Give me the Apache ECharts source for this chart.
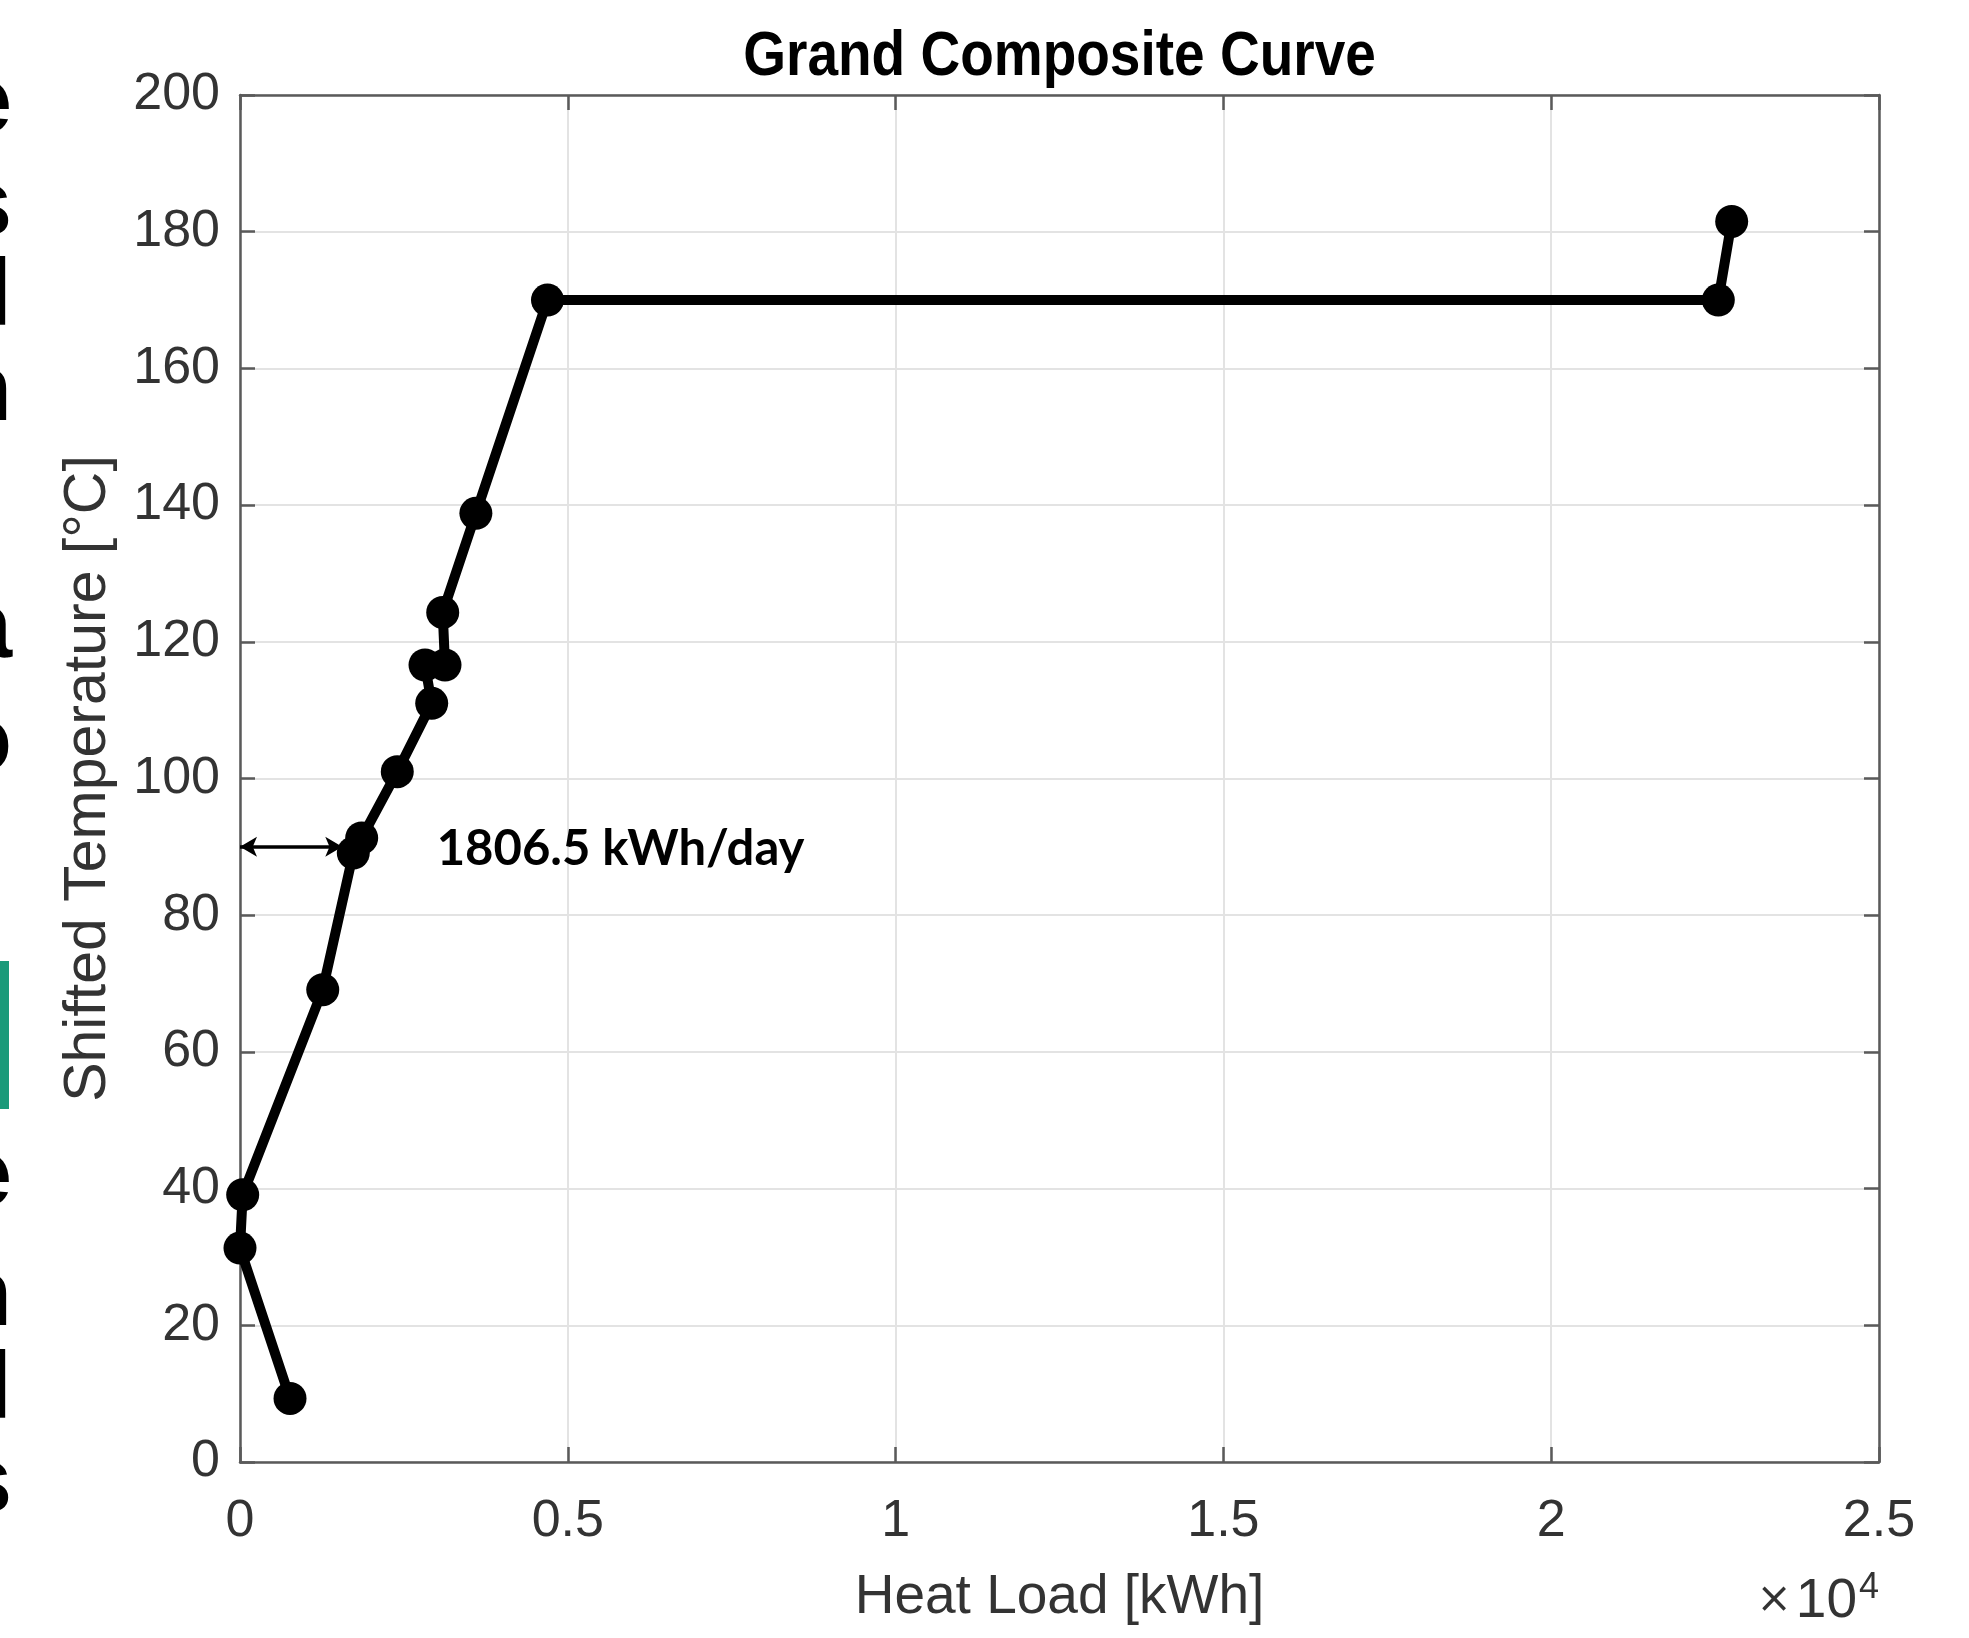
<!DOCTYPE html>
<html>
<head>
<meta charset="utf-8">
<script src="https://cdn.jsdelivr.net/npm/echarts@6/dist/echarts.min.js"></script>
<style>
  html, body { margin: 0; padding: 0; background: #fff; }
  #chart { width: 1969px; height: 1638px; }
</style>
</head>
<body>
<div id="chart"></div>
<script>
// ---- data ----
var heatLoad = [763, 0, 41, 1262, 1728, 1856, 2399, 2924, 2822, 3127, 3092, 3598, 4690, 22549, 22753];
var shiftedTemp = [9.3, 31.3, 39.1, 69.1, 89.1, 91.3, 101.0, 111.0, 116.6, 116.6, 124.3, 138.8, 170.0, 170.0, 181.5];
var xTicks = [0, 5000, 10000, 15000, 20000, 25000];
var yTicks = [0, 20, 40, 60, 80, 100, 120, 140, 160, 180, 200];
var pinchArrowX = [0, 1560];
var pinchArrowY = 90;
var annotationX = 3000;
var annotationText = '1806.5 kWh/day';
var titleText = 'Grand Composite Curve';
var xName = 'Heat Load [kWh]';
var yName = 'Shifted Temperature [°C]';
// cropped letters from the neighbouring page text, and the tops of their lines
var edgeLetters = ['e', 's', 'l', 'n', 'a', 'o', 'e', 'n', 'l', 's'];
var edgeLineTops = [58, 161, 251, 346, 583, 697, 1131, 1251, 1344, 1438];

var points = heatLoad.map(function (x, i) { return [x, shiftedTemp[i]]; });

var chart = echarts.init(document.getElementById('chart'), null, { renderer: 'canvas' });

var axisLineStyle = { color: '#5a5a5a', width: 2.5 };
var tickFont = 'Liberation Sans';
var labelColor = '#333333';

var option = {
  backgroundColor: '#ffffff',
  animation: false,
  grid: { left: 240, right: 90, top: 95, bottom: 176, containLabel: false },
  xAxis: [{
    type: 'value', min: xTicks[0], max: xTicks[xTicks.length - 1], interval: 5000,
    position: 'bottom',
    name: xName, nameLocation: 'middle', nameGap: 108,
    nameTextStyle: { fontFamily: tickFont, fontSize: 55, color: labelColor },
    axisLine: { show: true, onZero: false, lineStyle: axisLineStyle },
    axisTick: { show: true, inside: true, length: 15, lineStyle: axisLineStyle },
    axisLabel: { fontFamily: tickFont, fontSize: 52, color: labelColor, margin: 34,
      formatter: function (v) { return String(v / 10000); } },
    splitLine: { show: true, lineStyle: { color: '#e3e3e3', width: 2 } }
  }, {
    type: 'value', min: xTicks[0], max: xTicks[xTicks.length - 1], interval: 5000,
    position: 'top',
    axisLine: { show: true, onZero: false, lineStyle: axisLineStyle },
    axisTick: { show: true, inside: true, length: 15, lineStyle: axisLineStyle },
    axisLabel: { show: false },
    splitLine: { show: false }
  }],
  yAxis: [{
    type: 'value', min: yTicks[0], max: yTicks[yTicks.length - 1], interval: 20,
    position: 'left',
    name: yName, nameLocation: 'middle', nameGap: 122, nameRotate: 90,
    nameTextStyle: { fontFamily: tickFont, fontSize: 59, color: labelColor },
    axisLine: { show: true, onZero: false, lineStyle: axisLineStyle },
    axisTick: { show: true, inside: true, length: 15, lineStyle: axisLineStyle },
    axisLabel: { fontFamily: tickFont, fontSize: 52, color: labelColor, margin: 20 },
    splitLine: { show: true, lineStyle: { color: '#e3e3e3', width: 2 } }
  }, {
    type: 'value', min: yTicks[0], max: yTicks[yTicks.length - 1], interval: 20,
    position: 'right',
    axisLine: { show: true, onZero: false, lineStyle: axisLineStyle },
    axisTick: { show: true, inside: true, length: 15, lineStyle: axisLineStyle },
    axisLabel: { show: false },
    splitLine: { show: false }
  }],
  series: [{
    type: 'line',
    xAxisIndex: 0, yAxisIndex: 0,
    data: points,
    symbol: 'circle',
    symbolSize: 33,
    lineStyle: { color: '#000', width: 10 },
    itemStyle: { color: '#000' },
    z: 5,
    markLine: {
      silent: true,
      symbol: ['arrow', 'arrow'],
      symbolSize: [15, 17],
      label: { show: false },
      lineStyle: { color: '#000', width: 3.5, type: 'solid' },
      data: [[{ coord: [pinchArrowX[0], pinchArrowY] }, { coord: [pinchArrowX[1], pinchArrowY] }]]
    }
  }]
};
chart.setOption(option);

var anchor = chart.convertToPixel({ xAxisIndex: 0, yAxisIndex: 0 }, [annotationX, pinchArrowY]);
var titleAnchor = chart.convertToPixel({ xAxisIndex: 0, yAxisIndex: 0 }, [(xTicks[0] + xTicks[xTicks.length - 1]) / 2, yTicks[yTicks.length - 1]]);
var graphics = [{
  type: 'text',
  x: titleAnchor[0], y: 58,
  scaleY: 1.13,
  style: { text: titleText, fontFamily: tickFont, fontWeight: 'bold', fontSize: 55,
    fill: '#000', textAlign: 'center', textVerticalAlign: 'middle' }
}, {
  type: 'text',
  x: anchor[0], y: anchor[1] + 2,
  style: { text: annotationText, fontFamily: 'Lato', fontWeight: 'bold', fontSize: 49,
    fill: '#000', textAlign: 'left', textVerticalAlign: 'middle' }
}, {
  type: 'text',
  x: 1879, y: 1634,
  style: {
    text: '{m|×}{n|10}{s|4}',
    textAlign: 'right', textVerticalAlign: 'bottom',
    rich: {
      m: { fontFamily: 'DejaVu Sans', fontSize: 42, fill: labelColor, padding: [0, 4, 2, 0] },
      n: { fontFamily: tickFont, fontSize: 55, fill: labelColor },
      s: { fontFamily: tickFont, fontSize: 36, fill: labelColor, verticalAlign: 'top', padding: [0, 0, 28, 2] }
    }
  }
}, {
  type: 'rect',
  shape: { x: 0, y: 961, width: 9, height: 148 },
  style: { fill: '#1a9a7a' }
}];
edgeLetters.forEach(function (ch, i) {
  graphics.push({
    type: 'text',
    x: 12, y: edgeLineTops[i],
    style: { text: ch, fontFamily: 'Liberation Sans', fontWeight: 'bold', fontSize: 95,
      fill: '#000', textAlign: 'right', textVerticalAlign: 'top' }
  });
});
chart.setOption({ graphic: graphics });
</script>
</body>
</html>
